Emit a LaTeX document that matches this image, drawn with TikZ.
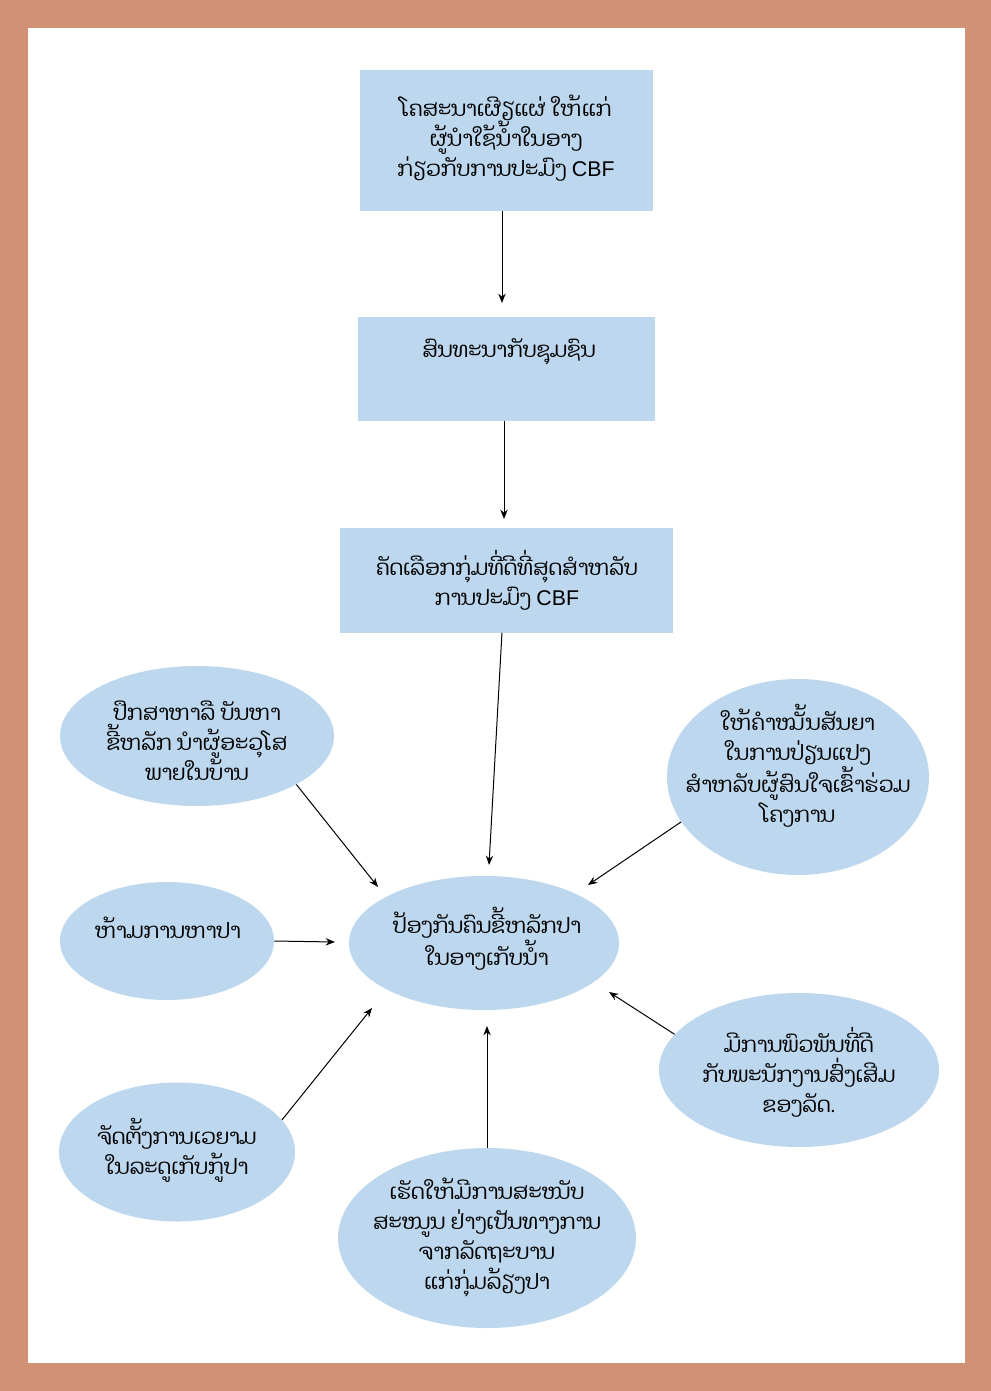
\documentclass[tikz,border=0pt]{standalone}
\usepackage{fontspec}
\usetikzlibrary{arrows.meta,shapes.geometric,calc}
\newfontfamily\laofont[Script=Lao]{Dhyana}
\newfontfamily\latinfont{Liberation Sans}
\newcommand{\cbf}{{\latinfont\fontsize{16pt}{22.5pt}\selectfont CBF}}
\definecolor{frame}{RGB}{208,145,117}
\definecolor{boxblue}{RGB}{189,215,238}
\tikzset{
  box/.style={rectangle, fill=boxblue, draw=none, inner sep=0pt},
  oval/.style={ellipse, fill=boxblue, draw=none, inner sep=0pt},
  txt/.style={align=center, inner sep=0pt, font=\laofont\fontsize{16pt}{22.5pt}\selectfont},
  arr/.style={-{Stealth[length=7pt,width=5.5pt]}, line width=0.75pt, black},
}
\begin{document}
\begin{tikzpicture}[x=0.75pt,y=-0.75pt]
\useasboundingbox (0,0) rectangle (991,1391);
\fill[frame] (0,0) rectangle (991,1391);
\fill[white] (28,28) rectangle (965,1363);

% boxes
\node[box, minimum width=219.75pt, minimum height=105.75pt] (box1) at (506.5,140.5) {};
\node[box, minimum width=222.75pt, minimum height=78pt] (box2) at (506.5,369) {};
\node[box, minimum width=249.75pt, minimum height=78.75pt] (box3) at (506.5,580) {};

% ellipses
\node[oval, minimum width=202.5pt, minimum height=100.5pt] (c) at (484,943) {};
\node[oval, minimum width=205.5pt, minimum height=105pt] (tl) at (197,736) {};
\node[oval, minimum width=196.5pt, minimum height=147pt] (tr) at (798,777) {};
\node[oval, minimum width=160.5pt, minimum height=88.5pt] (lm) at (167,941) {};
\node[oval, minimum width=210pt, minimum height=115.5pt] (rb) at (799,1070) {};
\node[oval, minimum width=177pt, minimum height=104.25pt] (bl) at (177,1152) {};
\node[oval, minimum width=223.5pt, minimum height=135pt] (bt) at (487,1238) {};

% texts
\node[txt] (box1t) at (506,138) {ໂຄສະນາເຜີຽແຜ່ ໃຫ້ແກ່\\ຜູ້ນຳໃຊ້ນ້ຳໃນອາງ\\ກ່ຽວກັບການປະມົງ \cbf};
\node[txt] (box2t) at (509,352) {ສົນທະນາກັບຊຸມຊົນ};
\node[txt] (box3t) at (507,580) {ຄັດເລືອກກຸ່ມທີ່ດີທີ່ສຸດສຳຫລັບ\\ການປະມົງ \cbf};
\node[txt] (tlt) at (197,741) {ປຶກສາຫາລື ບັນຫາ\\ຂີ້ຫລັກ ນຳຜູ້ອະວຸໂສ\\ພາຍໃນບ້ານ};
\node[txt] (trt) at (798,766) {ໃຫ້ຄຳໝັ້ນສັນຍາ\\ໃນການປ່ຽນແປງ\\ສຳຫລັບຜູ້ສົນໃຈເຂົ້າຮ່ວມ\\ໂຄງການ};
\node[txt] (lmt) at (168,928) {ຫ້າມການຫາປາ};
\node[txt] (ct) at (487,939) {ປ້ອງກັນຄົນຂີ້ຫລັກປາ\\ໃນອາງເກັບນ້ຳ};
\node[txt] (rbt) at (799,1072) {ມີການພົວພັນທີ່ດີ\\ກັບພະນັກງານສົ່ງເສີມ\\ຂອງລັດ.};
\node[txt] (blt) at (177,1150) {ຈັດຕັ້ງການເວຍາມ\\ໃນລະດູເກັບກູ້ປາ};
\node[txt] (btt) at (487,1237) {ເຮັດໃຫ້ມີການສະໜັບ\\ສະໜູນ ຢ່າງເປັນທາງການ\\ຈາກລັດຖະບານ\\ແກ່ກຸ່ມລ້ຽງປາ};

% arrow tips
\coordinate (t1) at (502,303);
\coordinate (t2) at (504,519);
\coordinate (t3) at (489,865);
\coordinate (t4) at (378,887);
\coordinate (t5) at (588,885);
\coordinate (t6) at (335,942);
\coordinate (t7) at (609,992);
\coordinate (t8) at (372,1008);
\coordinate (t9) at (487,1026);

\draw[arr] (t1 |- box1.south) -- (t1);
\draw[arr] (t2 |- box2.south) -- (t2);
\draw[arr] ([xshift=-3.4pt]box3.south) -- (t3);
\draw[arr] (tl.-26) -- (t4);
\draw[arr] (tr.201.5) -- (t5);
\draw[arr] (lm.east) -- (t6);
\draw[arr] (rb.164) -- (t7);
\draw[arr] (bl.17) -- (t8);
\draw[arr] (bt.north) -- (t9);
\end{tikzpicture}
\end{document}
